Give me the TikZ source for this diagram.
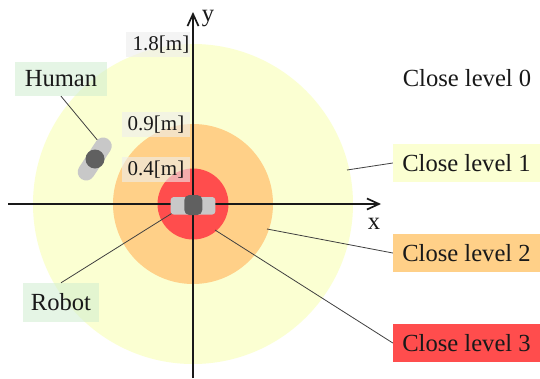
\documentclass[tikz,border=0pt]{standalone}
\usepackage{fontspec}
\setmainfont{Liberation Serif}
\usetikzlibrary{arrows.meta}
\definecolor{lvA}{HTML}{FBFFD2}
\definecolor{lvB}{HTML}{FFD088}
\definecolor{lvC}{HTML}{FF4D4D}
\definecolor{grayA}{HTML}{C8C8C8}
\definecolor{grayB}{HTML}{606060}
\definecolor{tagG}{HTML}{D0EDD0}
\definecolor{tagD}{HTML}{EEEEEE}
\tikzset{
  x=1pt,y=-1pt,
  txt/.style={font=\fontsize{24.6}{27}\selectfont,inner sep=0pt,text=black!90},
  lvbox/.style={txt,minimum width=147pt,minimum height=38pt},
  tag/.style={txt,fill=tagG,fill opacity=.55,text opacity=1},
  dist/.style={font=\fontsize{21}{24}\selectfont,inner sep=0pt,text=black!90,fill=tagD,fill opacity=.6,text opacity=1},
  axis/.style={line width=1.7pt,black!90,-{Straight Barb[length=12pt,width=11pt,line width=1.7pt]}},
  lead/.style={line width=.8pt,black!75},
}
\begin{document}
\begin{tikzpicture}
\useasboundingbox (0,0) rectangle (540,378);
\fill[white] (0,0) rectangle (540,378);
\fill[lvA] (193,204) circle[radius=160];
\fill[lvB] (193,204) circle[radius=80];
\fill[lvC] (193,204) circle[radius=35.5];
% axes
\coordinate (xs) at (8,204);
\coordinate (xe) at (381,204);
\coordinate (ys) at (193,378);
\coordinate (ye) at (193,12);
\draw[axis] (xs) -- (xe);
\draw[axis] (ys) -- (ye);
\node[txt] (xl) at (374,224) {x};
\node[txt] (yl) at (208,19) {y};
% connector free ends
\coordinate (hT) at (99,142);
\coordinate (rT) at (174,212);
\coordinate (c1) at (347,170);
\coordinate (c2) at (267,229);
\coordinate (c3) at (215,230);
% labels
\node[lvbox,fill=lvA] (l1) at (466.5,163) {Close level 1};
\node[lvbox,fill=lvB] (l2) at (466.5,253) {Close level 2};
\node[lvbox,fill=lvC] (l3) at (466.5,343) {Close level 3};
\node[txt] (l0) at (467,78) {Close level 0};
\node[tag,minimum width=92pt,minimum height=34pt] (human) at (61,79) {Human};
\node[tag,minimum width=76pt,minimum height=39pt] (robot) at (61,302.5) {Robot};
\node[dist,minimum width=64pt,minimum height=25pt] (d18) at (158,44.5) {\hspace*{6pt}1.8[m]};
\node[dist,minimum width=68pt,minimum height=25pt] (d09) at (156,124.5) {0.9[m]};
\node[dist,minimum width=68pt,minimum height=25pt] (d04) at (156,169.5) {0.4[m]};
\draw[lead] (human.south) -- (hT);
\draw[lead] (robot.north) -- (rT);
\draw[lead] (l1.west) -- (c1);
\draw[lead] (l2.west) -- (c2);
\draw[lead] (l3.west) -- (c3);
% human figure
\draw[grayA,line width=17pt,line cap=round] (86.2,172) -- (103.2,146);
\fill[grayB] (95,159) circle[radius=9.5];
% robot figure
\fill[grayA,rounded corners=3pt] (170.7,197) rectangle (215.3,214.5);
\fill[grayB,rounded corners=5pt] (184.3,195) rectangle (202.3,215);
\end{tikzpicture}
\end{document}
